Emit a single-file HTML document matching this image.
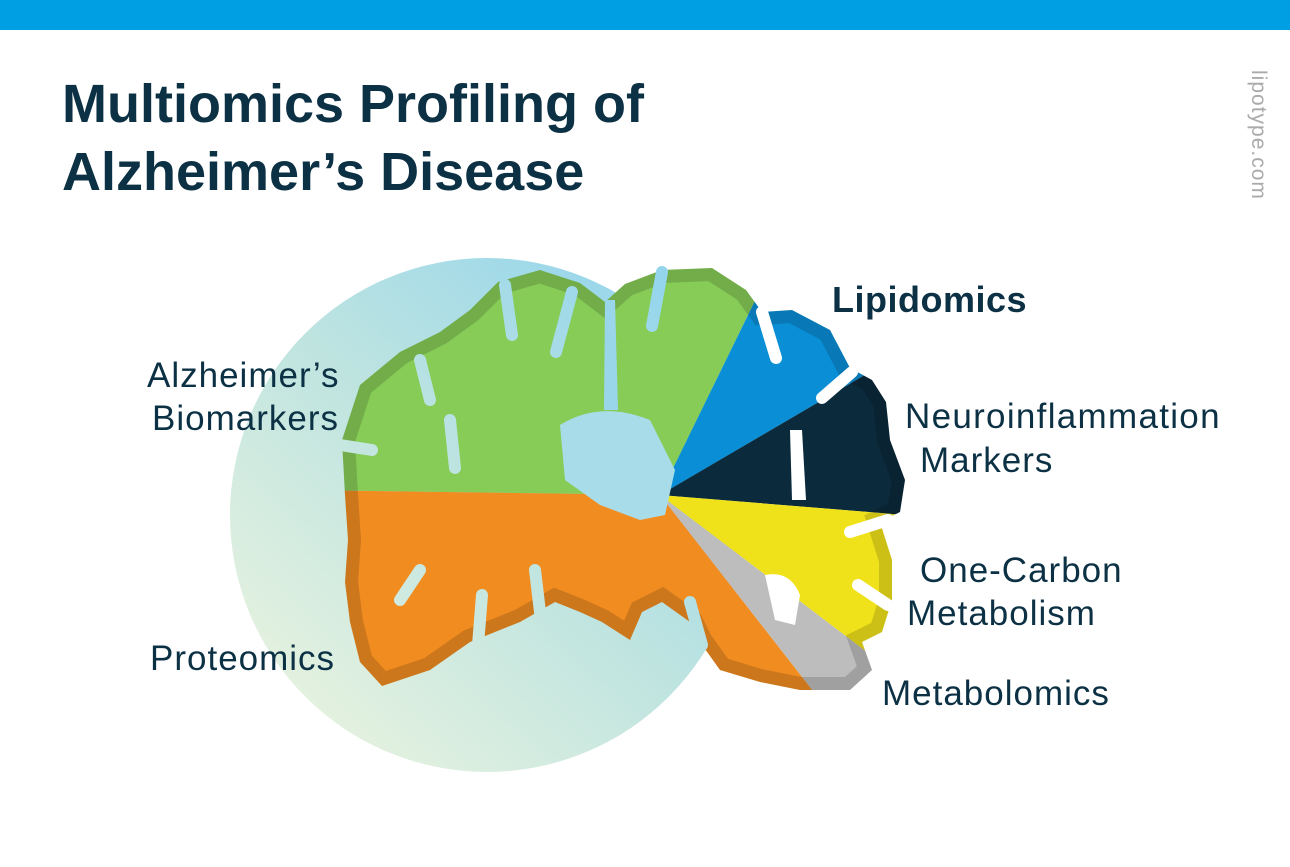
<!DOCTYPE html>
<html><head><meta charset="utf-8"><style>
html,body{margin:0;padding:0;background:#fff;}
body{width:1290px;height:867px;position:relative;overflow:hidden;font-family:"Liberation Sans",sans-serif;}
.bar{position:absolute;left:0;top:0;width:1290px;height:30px;background:#009fe3;}
</style></head><body>
<div class="bar"></div>
<svg width="1290" height="867" style="position:absolute;left:0;top:0">
<defs>
<linearGradient id="cg" gradientUnits="userSpaceOnUse" x1="260" y1="760" x2="720" y2="270">
<stop offset="0" stop-color="#eef5df"/><stop offset="0.5" stop-color="#bfe4e0"/><stop offset="1" stop-color="#8ed3ee"/>
</linearGradient>
<clipPath id="brain"><path id="bp" d="M345,495 L342,440 L360,385 L400,352 L440,332 L470,310 L498,282 L540,270 L580,283 L605,302 L625,284 L662,270 L712,268 L746,290 L762,312 L792,310 L830,330 L850,368 L872,380 L886,402 L890,440 L905,480 L900,512 L880,522 L892,560 L892,600 L882,632 L862,642 L872,670 L850,690 L800,690 L760,682 L720,670 L700,642 L690,622 L662,602 L642,612 L630,640 L602,622 L580,612 L555,602 L520,622 L470,642 L430,670 L382,686 L360,662 L350,622 L345,582 L348,540 Z"/></clipPath>
</defs>
<circle cx="487" cy="515" r="257" fill="url(#cg)"/>
<g clip-path="url(#brain)">
<polygon points="660,495 300,490 300,200 770,200 770,270" fill="#86cc57"/>
<polygon points="660,495 770,270 770,200 1000,200 1000,330 870,372" fill="#0a8fd6"/>
<polygon points="660,495 870,372 1000,330 1000,518 905,515" fill="#0b2a3c"/>
<polygon points="660,495 905,515 1000,518 1000,700 880,662" fill="#f0e21a"/>
<polygon points="660,495 880,662 1000,700 1000,800 820,700" fill="#bdbdbd"/>
<polygon points="660,495 820,700 1000,800 300,800 300,490" fill="#f08c20"/>
<use href="#bp" fill="none" stroke="#000" stroke-opacity="0.15" stroke-width="26"/>
</g>
<g stroke="url(#cg)" stroke-width="12" stroke-linecap="round" fill="none">
<path d="M340,445 L372,450"/>
<path d="M455,468 L450,420"/>
<path d="M478,645 L482,595"/>
<path d="M540,612 L535,570"/>
<path d="M400,600 L420,570"/>
<path d="M505,285 L512,335"/>
<path d="M572,292 L556,352"/>
<path d="M662,272 L652,326"/>
<path d="M702,645 L690,602"/>
<path d="M420,360 L430,400"/>
</g>
<g stroke="#fff" stroke-width="12" stroke-linecap="round" fill="none">
<path d="M762,312 L776,358"/>
<path d="M852,372 L822,398"/>
<path d="M888,520 L850,532"/>
<path d="M888,605 L858,585"/>
</g>
<path d="M560,425 Q600,400 650,420 L675,470 L665,515 L640,520 L600,505 L565,480 Z" fill="#a9dce9"/>
<path d="M605,300 L615,300 L618,410 L604,410 Z" fill="#9ad6ea"/>
<path d="M765,575 Q790,570 800,595 L795,625 L775,620 Z" fill="#fff"/>
<path d="M790,430 L802,430 L806,500 L792,500 Z" fill="#fff"/>
<text x="62" y="122" font-family="Liberation Sans" font-weight="bold" font-size="54" fill="#0c3144">Multiomics Profiling of</text>
<text x="62" y="190" font-family="Liberation Sans" font-weight="bold" font-size="54" fill="#0c3144">Alzheimer’s Disease</text>
<text transform="translate(1252,70) rotate(90)" font-size="21" fill="#aaa" font-family="Liberation Sans" letter-spacing="1">lipotype.com</text>
<g font-family="Liberation Sans" font-size="35" fill="#0c3144" letter-spacing="1">
<text x="832" y="312" font-weight="bold" font-size="36" letter-spacing="0.5">Lipidomics</text>
<text x="905" y="428" letter-spacing="1.3">Neuroinflammation</text>
<text x="920" y="472">Markers</text>
<text x="920" y="582">One-Carbon</text>
<text x="907" y="625">Metabolism</text>
<text x="882" y="705">Metabolomics</text>
<text x="147" y="387">Alzheimer’s</text>
<text x="152" y="430">Biomarkers</text>
<text x="150" y="670">Proteomics</text>
</g>
</svg>
</body></html>
